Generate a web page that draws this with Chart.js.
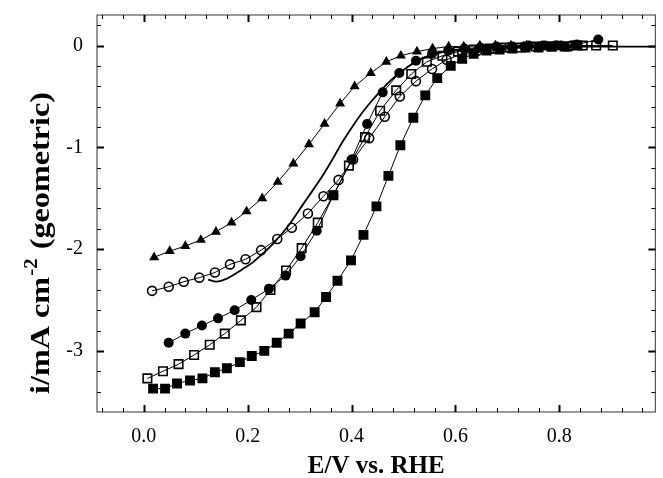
<!DOCTYPE html>
<html>
<head>
<meta charset="utf-8">
<script src="https://cdn.jsdelivr.net/npm/chart.js@4.4.1/dist/chart.umd.min.js"></script>
<style>
html, body { margin: 0; padding: 0; background: #fff; }
#wrap { width: 663px; height: 478px; }
</style>
</head>
<body>
<div id="wrap"><canvas id="chart" width="663" height="478"></canvas></div>
<script>
// Axis ticks
const xTickValues = [0.0, 0.2, 0.4, 0.6, 0.8];
const yTickValues = [-3, -2, -1, 0];

// Filled triangles
const triX = [0.020, 0.050, 0.080, 0.110, 0.139, 0.169, 0.198, 0.228, 0.258, 0.288, 0.318, 0.348, 0.378, 0.406, 0.437, 0.467, 0.495, 0.526, 0.556, 0.587, 0.616, 0.647, 0.677, 0.707, 0.737, 0.767, 0.797, 0.827];
const triY = [-2.08, -2.02, -1.97, -1.91, -1.83, -1.74, -1.63, -1.50, -1.34, -1.16, -0.97, -0.77, -0.57, -0.40, -0.27, -0.16, -0.10, -0.06, -0.03, -0.01, -0.01, 0, 0, 0, 0, 0, 0, 0];

// Open circles
const openCircleX = [0.016, 0.048, 0.077, 0.107, 0.137, 0.166, 0.196, 0.226, 0.257, 0.285, 0.316, 0.346, 0.375, 0.403, 0.434, 0.464, 0.493, 0.524, 0.555, 0.583, 0.613, 0.643, 0.673, 0.703, 0.733, 0.763, 0.793, 0.823];
const openCircleY = [-2.41, -2.37, -2.32, -2.28, -2.23, -2.15, -2.10, -2.01, -1.90, -1.79, -1.65, -1.48, -1.32, -1.12, -0.91, -0.70, -0.50, -0.35, -0.23, -0.14, -0.08, -0.05, -0.03, -0.02, -0.01, -0.01, 0, 0];

// Filled circles
const filledCircleX = [0.048, 0.080, 0.112, 0.143, 0.175, 0.207, 0.241, 0.273, 0.302, 0.333, 0.365, 0.400, 0.430, 0.460, 0.492, 0.524, 0.555, 0.586, 0.617, 0.648, 0.679, 0.710, 0.741, 0.772, 0.803, 0.834, 0.875];
const filledCircleY = [-2.92, -2.83, -2.75, -2.68, -2.60, -2.50, -2.39, -2.26, -2.07, -1.82, -1.47, -1.12, -0.77, -0.46, -0.27, -0.15, -0.08, -0.05, -0.03, -0.02, -0.01, -0.01, 0, 0, 0, 0.01, 0.06];

// Open squares
const openSquareX = [0.007, 0.037, 0.067, 0.097, 0.127, 0.156, 0.187, 0.217, 0.244, 0.274, 0.304, 0.335, 0.365, 0.395, 0.426, 0.455, 0.486, 0.515, 0.545, 0.575, 0.605, 0.635, 0.665, 0.695, 0.725, 0.755, 0.785, 0.815, 0.845, 0.871, 0.903];
const openSquareY = [-3.27, -3.20, -3.13, -3.04, -2.94, -2.83, -2.70, -2.57, -2.40, -2.21, -1.99, -1.74, -1.47, -1.18, -0.90, -0.64, -0.44, -0.28, -0.16, -0.10, -0.06, -0.04, -0.03, -0.02, -0.02, -0.01, -0.01, -0.01, 0, 0, 0];

// Filled squares
const filledSquareX = [0.018, 0.041, 0.064, 0.089, 0.113, 0.137, 0.160, 0.185, 0.208, 0.232, 0.256, 0.279, 0.302, 0.329, 0.351, 0.373, 0.399, 0.423, 0.448, 0.471, 0.494, 0.519, 0.542, 0.565, 0.591, 0.613, 0.635, 0.660, 0.685, 0.710, 0.735, 0.760, 0.785, 0.810, 0.835];
const filledSquareY = [-3.37, -3.37, -3.32, -3.29, -3.27, -3.21, -3.17, -3.11, -3.05, -3.00, -2.92, -2.83, -2.73, -2.62, -2.47, -2.31, -2.11, -1.86, -1.58, -1.28, -0.98, -0.71, -0.49, -0.32, -0.20, -0.13, -0.08, -0.05, -0.04, -0.03, -0.02, -0.02, -0.01, -0.01, 0];

// Plain curve without markers
const curveX = [0.124, 0.140, 0.160, 0.177, 0.195, 0.210, 0.230, 0.250, 0.280, 0.304, 0.323, 0.343, 0.362, 0.381, 0.400, 0.419, 0.438, 0.457, 0.476, 0.495, 0.520, 0.550, 0.580, 0.620, 0.660, 0.700, 0.750, 0.800, 0.850, 0.900, 0.950, 0.990];
const curveY = [-2.30, -2.32, -2.29, -2.24, -2.18, -2.13, -2.04, -1.94, -1.76, -1.58, -1.44, -1.29, -1.13, -0.96, -0.81, -0.67, -0.55, -0.44, -0.34, -0.26, -0.17, -0.10, -0.06, -0.04, -0.03, -0.02, -0.01, -0.01, -0.01, -0.01, -0.01, -0.01];

function pts(xs, ys) {
    return xs.map((x, i) => ({ x: x, y: ys[i] }));
}

// Frame, inward ticks on all four sides, axis titles
const framePlugin = {
    id: 'framePlugin',
    afterDatasetsDraw(chart) {
        const { ctx, chartArea: a, scales: { x, y } } = chart;
        ctx.save();
        ctx.strokeStyle = '#555';
        ctx.lineWidth = 1.2;
        ctx.strokeRect(a.left, a.top, a.right - a.left, a.bottom - a.top);

        ctx.strokeStyle = '#000';
        for (let k = -2; k <= 24; k++) {
            const px = Math.round(x.getPixelForValue(k * 0.04)) + 0.5;
            if (px < a.left + 2 || px > a.right - 2) continue;
            const major = k % 5 === 0;
            const len = major ? 7 : 4;
            ctx.lineWidth = major ? 2 : 1;
            ctx.beginPath();
            ctx.moveTo(px, a.bottom); ctx.lineTo(px, a.bottom - len);
            ctx.moveTo(px, a.top); ctx.lineTo(px, a.top + len);
            ctx.stroke();
        }
        for (let k = -18; k <= 1; k++) {
            const py = Math.round(y.getPixelForValue(k * 0.2)) + 0.5;
            if (py < a.top + 2 || py > a.bottom - 2) continue;
            const major = k % 5 === 0;
            const len = major ? 7 : 4;
            ctx.lineWidth = major ? 2 : 1;
            ctx.beginPath();
            ctx.moveTo(a.left, py); ctx.lineTo(a.left + len, py);
            ctx.moveTo(a.right, py); ctx.lineTo(a.right - len, py);
            ctx.stroke();
        }

        // x title
        ctx.fillStyle = '#000';
        ctx.font = 'bold 25px "Liberation Serif"';
        ctx.textAlign = 'center';
        ctx.textBaseline = 'alphabetic';
        ctx.fillText('E/V vs. RHE', (a.left + a.right) / 2, 473);

        // y title with superscript, stretched along its length like the original
        const big = 'bold 28px "Liberation Serif"';
        const small = 'bold 18px "Liberation Serif"';
        const p1 = 'i/mA cm', p2 = '-2', p3 = ' (geometric)';
        ctx.font = big;
        const w1 = ctx.measureText(p1).width, w3 = ctx.measureText(p3).width;
        ctx.font = small;
        const w2 = ctx.measureText(p2).width + 2;
        const total = w1 + w2 + w3;
        ctx.translate(49, 243);
        ctx.rotate(-Math.PI / 2);
        ctx.scale(1.15, 1);
        ctx.textAlign = 'left';
        let cx = -total / 2;
        ctx.font = big;
        ctx.fillText(p1, cx, 0);
        cx += w1 + 1;
        ctx.font = small;
        ctx.fillText(p2, cx, -12);
        cx += w2 - 1;
        ctx.font = big;
        ctx.fillText(p3, cx, 0);
        ctx.restore();
    }
};

const common = {
    showLine: true,
    borderColor: '#000',
    borderWidth: 1,
    pointBorderColor: '#000',
    tension: 0
};

new Chart(document.getElementById('chart'), {
    type: 'scatter',
    data: {
        datasets: [
            Object.assign({}, common, {
                label: 'curve',
                data: pts(curveX, curveY),
                borderWidth: 1.8,
                pointRadius: 0,
                tension: 0.3
            }),
            Object.assign({}, common, {
                label: 'triangles',
                data: pts(triX, triY),
                pointStyle: 'triangle',
                pointRadius: 5.8,
                pointBackgroundColor: '#000',
                pointBorderWidth: 0
            }),
            Object.assign({}, common, {
                label: 'open circles',
                data: pts(openCircleX, openCircleY),
                pointStyle: 'circle',
                pointRadius: 4.5,
                pointBackgroundColor: 'rgba(0,0,0,0)',
                pointBorderWidth: 1.6
            }),
            Object.assign({}, common, {
                label: 'filled circles',
                data: pts(filledCircleX, filledCircleY),
                pointStyle: 'circle',
                pointRadius: 5,
                pointBackgroundColor: '#000',
                pointBorderWidth: 0
            }),
            Object.assign({}, common, {
                label: 'open squares',
                data: pts(openSquareX, openSquareY),
                pointStyle: 'rect',
                pointRadius: 6,
                pointBackgroundColor: 'rgba(0,0,0,0)',
                pointBorderWidth: 1.6
            }),
            Object.assign({}, common, {
                label: 'filled squares',
                data: pts(filledSquareX, filledSquareY),
                pointStyle: 'rect',
                pointRadius: 7,
                pointBackgroundColor: '#000',
                pointBorderWidth: 0
            })
        ]
    },
    options: {
        responsive: false,
        animation: false,
        devicePixelRatio: 1,
        layout: { padding: { top: 15, right: 1, left: 0, bottom: 0 } },
        plugins: {
            legend: { display: false },
            tooltip: { enabled: false }
        },
        scales: {
            x: {
                type: 'linear',
                min: -0.09,
                max: 0.985,
                grid: { display: false, drawTicks: false },
                border: { display: false },
                afterBuildTicks: (scale) => { scale.ticks = xTickValues.map(v => ({ value: v })); },
                afterFit: (scale) => { scale.height = 66; scale.paddingLeft = 0; scale.paddingRight = 0; },
                ticks: {
                    padding: 13,
                    color: '#000',
                    font: { family: '"Liberation Serif"', size: 20 },
                    callback: (v) => Number(v).toFixed(1)
                }
            },
            y: {
                type: 'linear',
                min: -3.6,
                max: 0.3,
                grid: { display: false, drawTicks: false },
                border: { display: false },
                afterBuildTicks: (scale) => { scale.ticks = yTickValues.map(v => ({ value: v })); },
                afterFit: (scale) => { scale.width = 97; scale.paddingTop = 0; scale.paddingBottom = 0; },
                ticks: {
                    padding: 14,
                    color: '#000',
                    font: { family: '"Liberation Serif"', size: 20 },
                    callback: (v) => String(v)
                }
            }
        }
    },
    plugins: [framePlugin]
});
</script>
</body>
</html>
